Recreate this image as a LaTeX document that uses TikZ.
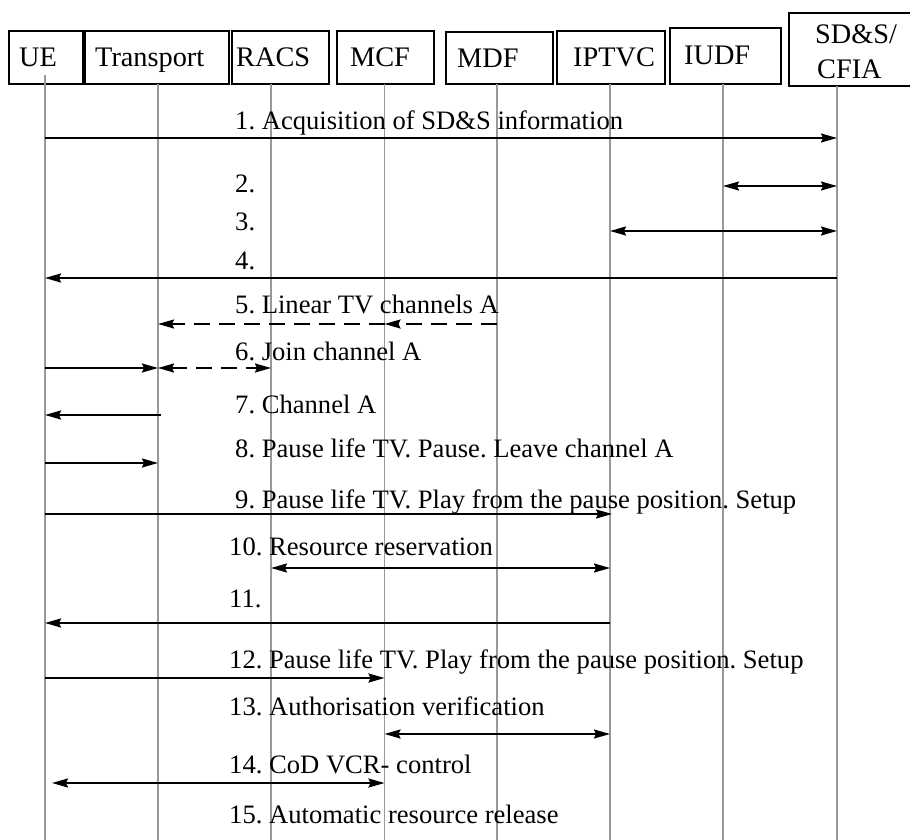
\documentclass[tikz,border=0pt]{standalone}
\usepackage{fontspec}
\setmainfont{Liberation Serif}
\usetikzlibrary{arrows.meta}
\frenchspacing

\begin{document}
\begin{tikzpicture}[x=1pt,y=-1pt,
    >={Stealth[length=16pt,width=9pt,inset=2pt]},
    pbox/.style={draw,line width=1.6pt,rectangle,inner sep=0pt},
    ptext/.style={anchor=base west,inner sep=0pt,font=\fontsize{28.3pt}{32pt}\selectfont},
    mtext/.style={anchor=base west,inner sep=0pt,font=\fontsize{26.6pt}{30pt}\selectfont},
    life/.style={draw=black!40,line width=1.3pt},
    msg/.style={->,line width=2pt},
    dmsg/.style={msg,dash pattern=on 16pt off 9pt}]
    \useasboundingbox (0,0) rectangle (910,840);

    % participants
    \node[pbox,minimum width=74,minimum height=53] (uebox) at (46,57.5) {};
    \node[pbox,minimum width=144,minimum height=53] (trbox) at (157,57.5) {};
    \node[pbox,minimum width=97,minimum height=53] (racsbox) at (280.5,57.5) {};
    \node[pbox,minimum width=97,minimum height=53] (mcfbox) at (385.5,57.5) {};
    \node[pbox,minimum width=107,minimum height=52] (mdfbox) at (499.5,58) {};
    \node[pbox,minimum width=108,minimum height=53] (iptvcbox) at (611,57.5) {};
    \node[pbox,minimum width=111,minimum height=56] (iudfbox) at (725.5,56) {};
    \node[pbox,minimum width=136,minimum height=73] (sdsbox) at (857,49.5) {};

    \node[ptext] (uetext) at (19,67) {UE};
    \node[ptext] (trtext) at (95,67) {Transport};
    \node[ptext] (racstext) at (236,67) {RACS};
    \node[ptext] (mcftext) at (350,67) {MCF};
    \node[ptext] (mdftext) at (457,68) {MDF};
    \node[ptext] (iptvctext) at (573,66.5) {IPTVC};
    \node[ptext] (iudftext) at (684,65) {IUDF};
    \node[ptext] (sdstext) at (815,44) {SD\&S/};
    \node[ptext] (cfiatext) at (817,79) {CFIA};

    % lifelines
    \coordinate (ue) at (45,75);
    \coordinate (tr) at (158,84);
    \coordinate (racs) at (271,84);
    \coordinate (mcf) at (384.5,84);
    \coordinate (mdf) at (497,84);
    \coordinate (iptvc) at (610,84);
    \coordinate (iudf) at (723,84);
    \coordinate (sds) at (837,86);
    \coordinate (bottom) at (0,840);
    \foreach \p in {ue,tr,racs,mcf,mdf,iptvc,iudf,sds}
        \draw[life] (\p) -- (\p |- bottom);

    % message rows
    \foreach \i/\y in {1/138,2/186,3/231,4/278,5/324,6/368,7/415,8/463,
                       9/514,10/568,11/623,12/678,13/734,14/783}
        \coordinate (m\i) at (0,\y);

    \foreach \i/\x/\y/\txt in {
        1/235/130/{1. Acquisition of SD\&S information},
        2/235/192/{2.},
        3/235/230/{3.},
        4/235/269/{4.},
        5/235/313/{5. Linear TV channels A},
        6/235/360/{6. Join channel A},
        7/235/413/{7. Channel A},
        8/235/457/{8. Pause life TV. Pause. Leave channel A},
        9/235/508/{9. Pause life TV. Play from the pause position. Setup},
        10/229/555/{10. Resource reservation},
        11/229/607/{11.},
        12/229/668/{12. Pause life TV. Play from the pause position. Setup},
        13/229/715/{13. Authorisation verification},
        14/229/773/{14. CoD VCR- control},
        15/229/823/{15. Automatic resource release}}
        \node[mtext] (lab\i) at (\x,\y) {\txt};

    % messages
    \draw[msg] (ue |- m1) -- (sds |- m1);
    \draw[msg,<->] (iudf |- m2) -- (sds |- m2);
    \draw[msg,<->] (iptvc |- m3) -- (sds |- m3);
    \draw[msg] (sds |- m4) -- (ue |- m4);
    \draw[dmsg] (mdf |- m5) -- (mcf |- m5);
    \draw[dmsg] (mcf |- m5) -- (tr |- m5);
    \draw[msg] (ue |- m6) -- (tr |- m6);
    \draw[dmsg,<->] (tr |- m6) -- (racs |- m6);
    \draw[msg,shorten <=-3pt] (tr |- m7) -- (ue |- m7);
    \draw[msg] (ue |- m8) -- (tr |- m8);
    \draw[msg,shorten >=-2pt] (ue |- m9) -- (iptvc |- m9);
    \draw[msg,<->] (racs |- m10) -- (iptvc |- m10);
    \draw[msg] (iptvc |- m11) -- (ue |- m11);
    \draw[msg] (ue |- m12) -- (mcf |- m12);
    \draw[msg,<->] (mcf |- m13) -- (iptvc |- m13);
    \draw[msg,<->,shorten <=7pt] (ue |- m14) -- (mcf |- m14);
\end{tikzpicture}
\end{document}
